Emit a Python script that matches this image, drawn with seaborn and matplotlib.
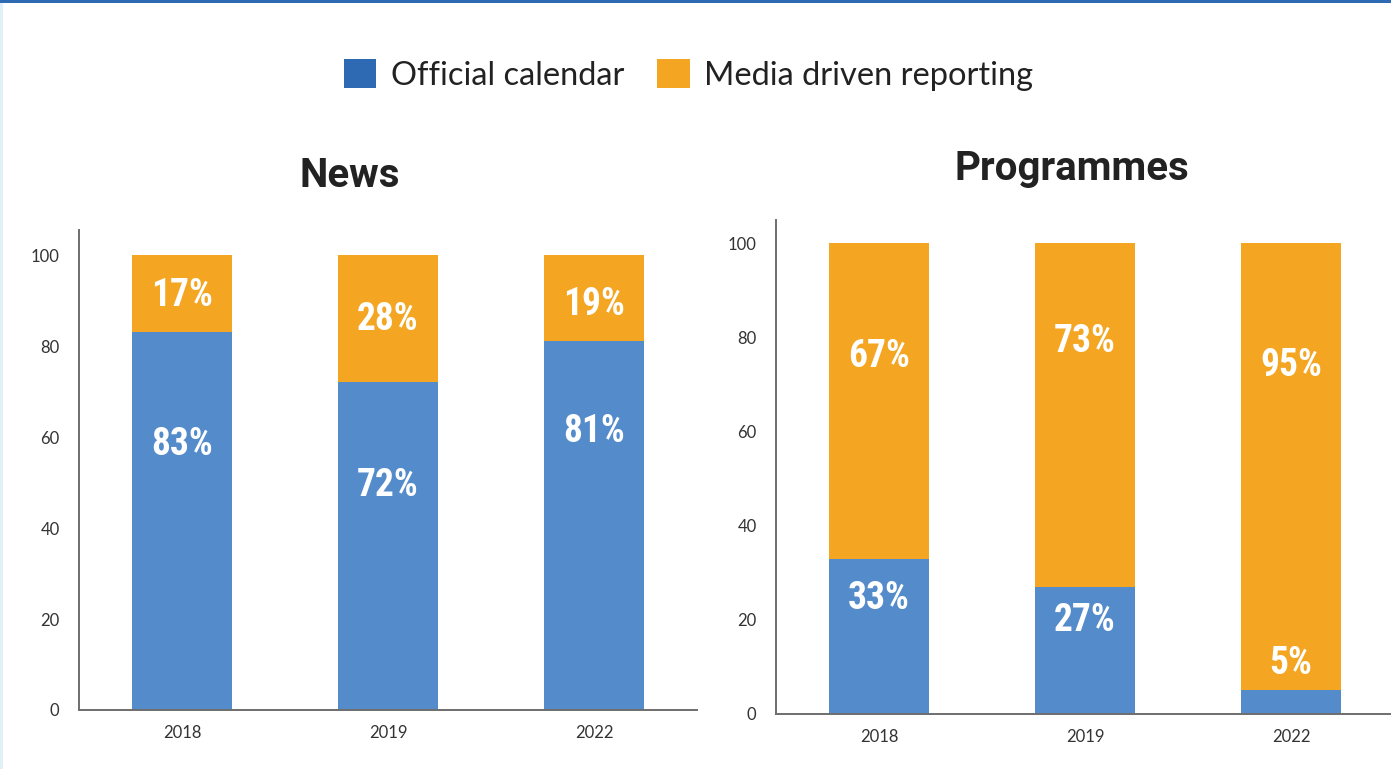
import matplotlib
matplotlib.use("Agg")
import matplotlib.pyplot as plt
from matplotlib.patches import Patch, Rectangle
import seaborn as sns
import pandas as pd

# Share of coverage by source, percent
years = ["2018", "2019", "2022"]
news_official = [83, 72, 81]
news_media = [17, 28, 19]
prog_official = [33, 27, 5]
prog_media = [67, 73, 95]
series_names = ["Official calendar", "Media driven reporting"]
panel_titles = ["News", "Programmes"]

# Vertical placement of the in-bar percentage labels (data units)
news_label_y = {"official": [58.3, 49.3, 61.2], "media": [91.0, 85.8, 89.1]}
prog_label_y = {"official": [24.5, 19.8, 10.7], "media": [76.0, 79.2, 74.1]}

BAR_BLUE = "#548BCB"
LEGEND_BLUE = "#2E6AB3"
ORANGE = "#F4A623"
SPINE = "#6E6E6E"
TEXT = "#222222"

sns.set_theme(style="white")
plt.rcParams["font.family"] = ["Lato", "DejaVu Sans"]

fig = plt.figure(figsize=(13.91, 7.69), dpi=100)
fig.patch.set_facecolor("white")

W, H = 1391, 769


def axes_rect(left, right, top, bottom):
    return [left / W, (H - bottom) / H, (right - left) / W, (bottom - top) / H]


ax_news = fig.add_axes(axes_rect(79, 697, 230, 710))
ax_prog = fig.add_axes(axes_rect(776, 1394, 220, 714))

label_font = dict(family=["Roboto Condensed", "Liberation Sans Narrow", "Roboto"],
                  weight="bold", size=27, color="white")


def draw_panel(ax, official, media, label_y, ytop):
    df = pd.DataFrame({
        "year": years,
        "official": official,
        "total": [o + m for o, m in zip(official, media)],
    })
    # stacked bars: the full column in orange, the official share over it in blue
    sns.barplot(data=df, x="year", y="total", color=ORANGE, saturation=1,
                width=0.485, ax=ax, edgecolor="none")
    sns.barplot(data=df, x="year", y="official", color=BAR_BLUE, saturation=1,
                width=0.485, ax=ax, edgecolor="none")
    for i, (o, m) in enumerate(zip(official, media)):
        ax.text(i, label_y["official"][i], f"{o}%", ha="center", va="center",
                **label_font)
        ax.text(i, label_y["media"][i], f"{m}%", ha="center", va="center",
                **label_font)
    ax.set_xlim(-0.5, 2.5)
    ax.set_ylim(0, ytop)
    ax.set_yticks([0, 20, 40, 60, 80, 100])
    ax.set_xlabel("")
    ax.set_ylabel("")
    ax.tick_params(axis="y", length=0, pad=14, labelsize=12, labelcolor="#333333")
    ax.tick_params(axis="x", length=0, pad=11, labelsize=12, labelcolor="#333333")
    for side in ("top", "right"):
        ax.spines[side].set_visible(False)
    for side in ("left", "bottom"):
        ax.spines[side].set_color(SPINE)
        ax.spines[side].set_linewidth(1.4)
    ax.set_facecolor("white")


draw_panel(ax_news, news_official, news_media, news_label_y, 105.5)
draw_panel(ax_prog, prog_official, prog_media, prog_label_y, 104.9)

title_font = dict(family=["Roboto", "DejaVu Sans"], weight="bold", size=29, color=TEXT)
fig.text(350 / W, 1 - 187 / H, panel_titles[0], ha="center", va="baseline", **title_font)
fig.text(1072 / W, 1 - 180 / H, panel_titles[1], ha="center", va="baseline", **title_font)

handles = [Patch(facecolor=LEGEND_BLUE, edgecolor="none"),
           Patch(facecolor=ORANGE, edgecolor="none")]
fig.legend(handles, series_names, loc="center", bbox_to_anchor=(688.5 / W, 1 - 75 / H),
           ncol=2, frameon=False, prop=dict(family=["Lato", "DejaVu Sans"], size=23.5),
           handlelength=1.0, handleheight=1.0, handletextpad=0.45,
           columnspacing=1.0, labelcolor=TEXT)

# page frame: blue rule along the top, pale strip down the left edge
fig.add_artist(Rectangle((0, 0), 3 / W, 1, transform=fig.transFigure,
                         facecolor="#E1F0F8", edgecolor="none", zorder=0))
fig.add_artist(Rectangle((0, 1 - 2.5 / H), 1, 2.5 / H, transform=fig.transFigure,
                         facecolor=LEGEND_BLUE, edgecolor="none", zorder=5))

fig.savefig("out.png", dpi=100, facecolor="white")
